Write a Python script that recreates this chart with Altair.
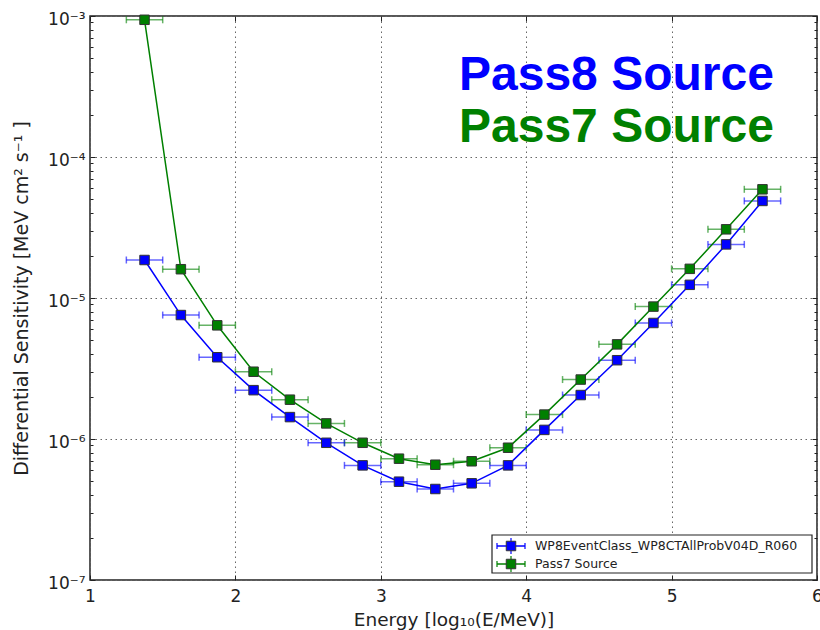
import math
import altair as alt
import pandas as pd

# ---------------- data ----------------
energy_bins = [1.375, 1.625, 1.875, 2.125, 2.375, 2.625, 2.875, 3.125, 3.375,
               3.625, 3.875, 4.125, 4.375, 4.625, 4.875, 5.125, 5.375, 5.625]
bin_half_width = [0.125] * len(energy_bins)

series_names = ["WP8EventClass_WP8CTAllProbV04D_R060", "Pass7 Source"]
series_colors = ["#0000ff", "#008000"]

pass8_sens = [1.86e-5, 7.57e-6, 3.80e-6, 2.22e-6, 1.43e-6, 9.4e-7, 6.5e-7, 4.98e-7, 4.42e-7,
              4.85e-7, 6.5e-7, 1.16e-6, 2.05e-6, 3.62e-6, 6.65e-6, 1.24e-5, 2.40e-5, 4.88e-5]
pass7_sens = [9.4e-4, 1.60e-5, 6.4e-6, 3.0e-6, 1.90e-6, 1.29e-6, 9.4e-7, 7.25e-7, 6.57e-7,
              6.95e-7, 8.67e-7, 1.49e-6, 2.64e-6, 4.69e-6, 8.69e-6, 1.61e-5, 3.07e-5, 5.9e-5]

x_tick_values = [1, 2, 3, 4, 5, 6]
y_major_values = [1e-7, 1e-6, 1e-5, 1e-4, 1e-3]
y_major_labels = ["10\u207b\u2077", "10\u207b\u2076", "10\u207b\u2075", "10\u207b\u2074", "10\u207b\u00b3"]
y_minor_values = [m * d for d in [1e-7, 1e-6, 1e-5, 1e-4] for m in range(2, 10)]

annotation_labels = ["Pass8 Source", "Pass7 Source"]
annotation_colors = ["#0000ff", "#008000"]

x_title = "Energy [log\u2081\u2080(E/MeV)]"
y_title = "Differential Sensitivity [MeV cm\u00b2 s\u207b\u00b9 ]"

# ---------------- table ----------------
rows = []
for name, vals in zip(series_names, [pass8_sens, pass7_sens]):
    for xc, hw, v in zip(energy_bins, bin_half_width, vals):
        rows.append({"series": name, "x": xc, "lo": xc - hw, "hi": xc + hw, "y": v})
df = pd.DataFrame(rows)

PLOT_W, PLOT_H = 727, 564
FONT = "DejaVu Sans"
INK = "#222222"

xscale = alt.Scale(domain=[1, 6], nice=False, zero=False)
yscale = alt.Scale(type="log", domain=[1e-7, 1e-3], nice=False)
cscale = alt.Scale(domain=series_names, range=series_colors)

# label expression for decade ticks
expr = "''"
for v, lab in zip(y_major_values, y_major_labels):
    e = round(math.log10(v))
    expr = f"(round(log(datum.value)/LN10) == {e} ? '{lab}' : {expr})"

grid_kw = dict(grid=True, gridColor="#666666", gridDash=[1.5, 3.5], gridWidth=1)

x_main_axis = alt.Axis(orient="bottom", values=x_tick_values, ticks=False, domain=False,
                       labelFont=FONT, labelFontSize=17, labelColor=INK, labelPadding=8,
                       labelFlush=False, labelOverlap=False, format="d",
                       title=x_title, titleFont=FONT, titleFontSize=18.5, titleFontWeight="normal",
                       titleColor=INK, titleBaseline="alphabetic", titleY=45, **grid_kw)
y_main_axis = alt.Axis(orient="left", values=y_major_values, ticks=False, domain=False,
                       labelFont=FONT, labelFontSize=17, labelColor=INK, labelPadding=5,
                       labelFlush=False, labelOverlap=False, labelExpr=expr, labelOffset=3,
                       title=y_title, titleFont=FONT, titleFontSize=19, titleFontWeight="normal",
                       titleColor=INK, titleBaseline="alphabetic", titleX=-63, **grid_kw)


def tick_axis(orient, offset, values, size):
    return alt.Axis(orient=orient, offset=offset, values=values, labels=False, domain=False,
                    grid=False, ticks=True, tickSize=size, tickColor=INK, tickWidth=1, title=None)


base = alt.Chart(df)

# error bars
err = base.mark_rule(strokeWidth=1.5, opacity=0.6).encode(
    x=alt.X("lo:Q", scale=xscale, axis=x_main_axis),
    x2="hi:Q",
    y=alt.Y("y:Q", scale=yscale, axis=y_main_axis),
    color=alt.Color("series:N", scale=cscale, legend=None),
)
cap_lo = base.mark_tick(orient="vertical", size=7, thickness=1.5, opacity=0.6).encode(
    x=alt.X("lo:Q", scale=xscale, axis=None),
    y=alt.Y("y:Q", scale=yscale, axis=None),
    color=alt.Color("series:N", scale=cscale, legend=None),
)
cap_hi = base.mark_tick(orient="vertical", size=7, thickness=1.5, opacity=0.6).encode(
    x=alt.X("hi:Q", scale=xscale, axis=None),
    y=alt.Y("y:Q", scale=yscale, axis=None),
    color=alt.Color("series:N", scale=cscale, legend=None),
)
lines = base.mark_line(strokeWidth=1.5).encode(
    x=alt.X("x:Q", scale=xscale, axis=None),
    y=alt.Y("y:Q", scale=yscale, axis=None),
    color=alt.Color("series:N", scale=cscale, legend=None),
    order="x:Q",
)
points = base.mark_point(shape="square", filled=True, size=90, stroke="#333333",
                         strokeWidth=1, opacity=1).encode(
    x=alt.X("x:Q", scale=xscale, axis=None),
    y=alt.Y("y:Q", scale=yscale, axis=None),
    color=alt.Color("series:N", scale=cscale, legend=None),
)

# inward tick marks on all four sides
ghost = base.mark_point(opacity=0, size=1)
ticks_a = ghost.encode(
    x=alt.X("x:Q", scale=xscale, axis=tick_axis("bottom", -PLOT_H, x_tick_values, 5)),
    y=alt.Y("y:Q", scale=yscale, axis=tick_axis("right", -PLOT_W, y_major_values, 5)),
)
ticks_b = ghost.encode(
    x=alt.X("x:Q", scale=xscale, axis=tick_axis("top", -PLOT_H, x_tick_values, 5)),
    y=alt.Y("y:Q", scale=yscale, axis=tick_axis("left", -PLOT_W, y_major_values, 5)),
)
ticks_c = ghost.encode(
    x=alt.X("x:Q", scale=xscale, axis=None),
    y=alt.Y("y:Q", scale=yscale, axis=tick_axis("right", -PLOT_W, y_minor_values, 3)),
)
ticks_d = ghost.encode(
    x=alt.X("x:Q", scale=xscale, axis=None),
    y=alt.Y("y:Q", scale=yscale, axis=tick_axis("left", -PLOT_W, y_minor_values, 3)),
)

# ---------------- legend (drawn as a small box of marks) ----------------
LX0, LX1, LY0, LY1 = 402, 722, 519, 557
SYM_X, LINE_L, LINE_R, TXT_X = 421, 407, 435, 445
legend_layers = [
    alt.Chart(pd.DataFrame({"k": [0]})).mark_rect(fill="white", stroke=INK, strokeWidth=1.2).encode(
        x=alt.value(LX0), x2=alt.value(LX1), y=alt.value(LY0), y2=alt.value(LY1))
]
for i, (name, col) in enumerate(zip(series_names, series_colors)):
    yy = 530 + 18 * i
    one = alt.Chart(pd.DataFrame({"label": [name]}))
    legend_layers += [
        one.mark_rule(color=col, strokeWidth=1.5).encode(
            x=alt.value(LINE_L), x2=alt.value(LINE_R), y=alt.value(yy)),
        one.mark_rule(color=col, strokeWidth=1.2).encode(
            x=alt.value(LINE_L), y=alt.value(yy - 3), y2=alt.value(yy + 3)),
        one.mark_rule(color=col, strokeWidth=1.2).encode(
            x=alt.value(LINE_R), y=alt.value(yy - 3), y2=alt.value(yy + 3)),
        one.mark_rule(color=col, strokeWidth=1.2).encode(
            x=alt.value(SYM_X), y=alt.value(yy - 8), y2=alt.value(yy + 8)),
        one.mark_point(shape="square", filled=True, size=90, color=col, stroke="#333333",
                       strokeWidth=1, opacity=1).encode(x=alt.value(SYM_X), y=alt.value(yy)),
        one.mark_text(align="left", baseline="middle", font=FONT, fontSize=12.5, color=INK).encode(
            x=alt.value(TXT_X), y=alt.value(yy), text="label:N"),
    ]

# ---------------- annotations ----------------
ann_layers = []
for lab, col, ypix in zip(annotation_labels, annotation_colors, [74, 126]):
    ann_layers.append(
        alt.Chart(pd.DataFrame({"label": [lab]})).mark_text(
            align="left", baseline="alphabetic", font="Liberation Sans",
            fontWeight="bold", fontSize=48, color=col,
        ).encode(x=alt.value(369), y=alt.value(ypix), text="label:N")
    )

chart = alt.layer(
    err, cap_lo, cap_hi, lines, points,
    ticks_a, ticks_b, ticks_c, ticks_d, *legend_layers, *ann_layers,
).resolve_axis(
    x="independent", y="independent"
).properties(
    width=PLOT_W, height=PLOT_H,
    padding={"left": 90, "top": 16, "right": 3, "bottom": 50},
    autosize=alt.AutoSizeParams(type="none"),
    background="white",
).configure_view(stroke=INK, strokeWidth=1.5)

chart.save("out.html", embed_options={"renderer": "svg", "actions": False})
